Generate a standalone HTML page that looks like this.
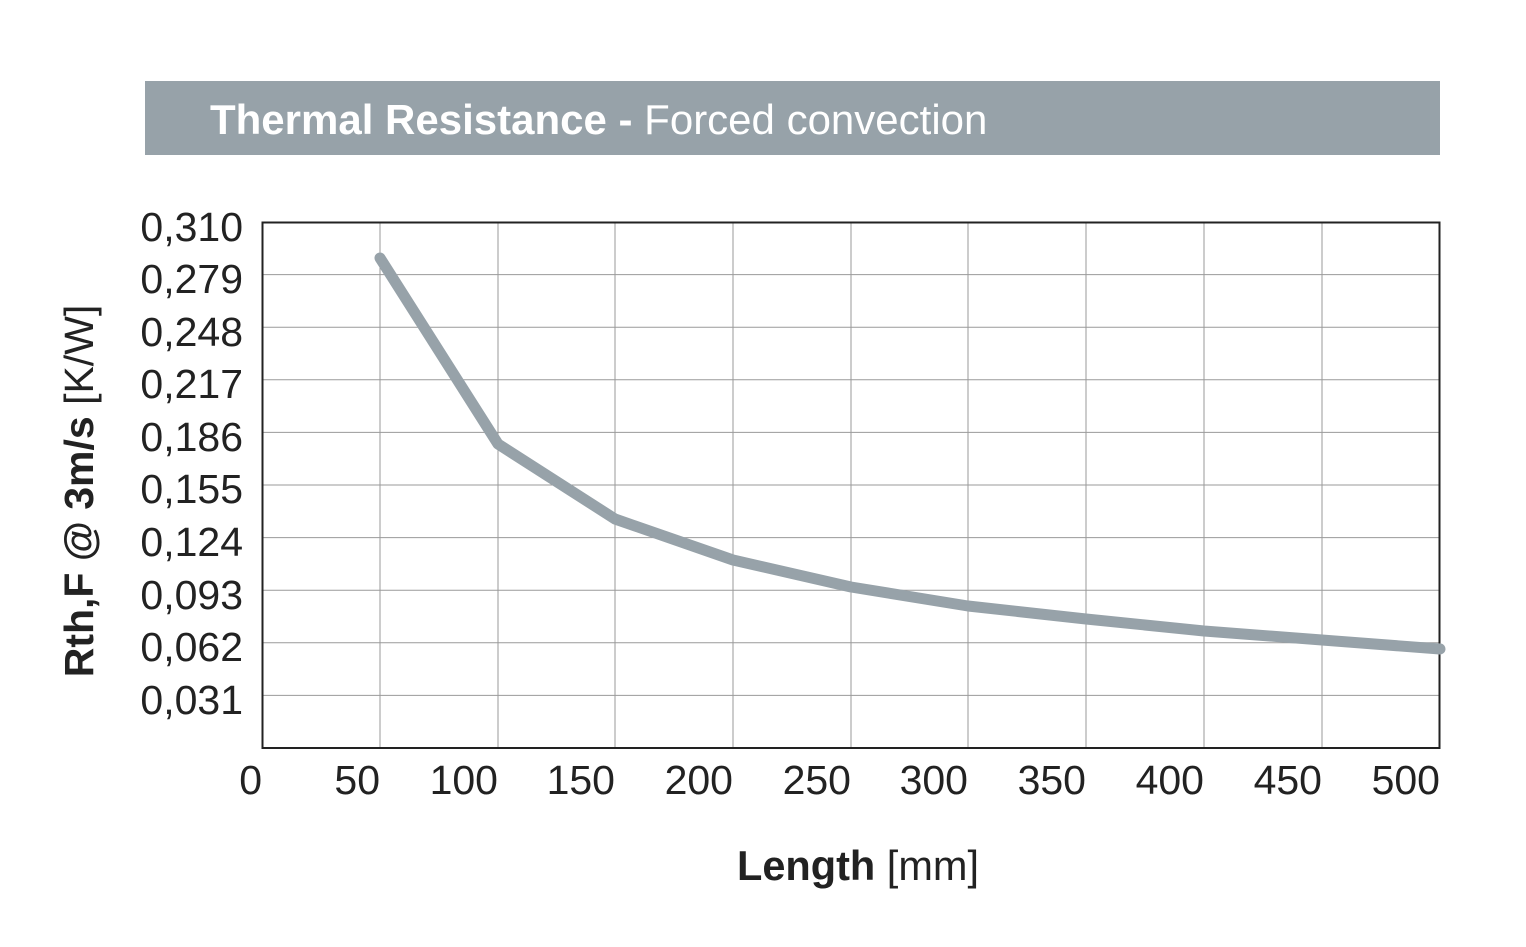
<!DOCTYPE html>
<html><head><meta charset="utf-8"><style>
body{margin:0;background:#fff;}
svg{display:block;font-family:"Liberation Sans",Arial,sans-serif;}
</style></head><body>
<svg width="1526" height="947" viewBox="0 0 1526 947" xmlns="http://www.w3.org/2000/svg">
<rect x="145" y="81" width="1295" height="74" fill="#97a2a9"/>
<text x="210" y="134" font-size="42" fill="#fff"><tspan font-weight="bold">Thermal Resistance -</tspan> Forced convection</text>
<g stroke="#9a9a9a" stroke-width="1">
<line x1="380" y1="222" x2="380" y2="748"/><line x1="498" y1="222" x2="498" y2="748"/>
<line x1="615" y1="222" x2="615" y2="748"/><line x1="733" y1="222" x2="733" y2="748"/>
<line x1="851" y1="222" x2="851" y2="748"/><line x1="968" y1="222" x2="968" y2="748"/>
<line x1="1086" y1="222" x2="1086" y2="748"/><line x1="1204" y1="222" x2="1204" y2="748"/>
<line x1="1322" y1="222" x2="1322" y2="748"/>
<line x1="262" y1="274.6" x2="1440" y2="274.6"/><line x1="262" y1="327.2" x2="1440" y2="327.2"/>
<line x1="262" y1="379.8" x2="1440" y2="379.8"/><line x1="262" y1="432.4" x2="1440" y2="432.4"/>
<line x1="262" y1="485" x2="1440" y2="485"/><line x1="262" y1="537.6" x2="1440" y2="537.6"/>
<line x1="262" y1="590.2" x2="1440" y2="590.2"/><line x1="262" y1="642.8" x2="1440" y2="642.8"/>
<line x1="262" y1="695.4" x2="1440" y2="695.4"/>
</g>
<rect x="262.5" y="222.5" width="1177" height="525.5" fill="none" stroke="#222" stroke-width="2"/>
<polyline points="380,258 498,444 615,519 733,560 851,587 968,606 1086,619 1204,631 1322,640 1440,649" fill="none" stroke="#97a2a9" stroke-width="11" stroke-linecap="round" stroke-linejoin="round"/>
<g font-size="41" fill="#222" text-anchor="end">
<text x="243" y="241">0,310</text><text x="243" y="293">0,279</text><text x="243" y="346">0,248</text>
<text x="243" y="398">0,217</text><text x="243" y="451">0,186</text><text x="243" y="503">0,155</text>
<text x="243" y="556">0,124</text><text x="243" y="609">0,093</text><text x="243" y="661">0,062</text>
<text x="243" y="714">0,031</text>
<text x="262" y="794">0</text><text x="380" y="794">50</text><text x="498" y="794">100</text>
<text x="615" y="794">150</text><text x="733" y="794">200</text><text x="851" y="794">250</text>
<text x="968" y="794">300</text><text x="1086" y="794">350</text><text x="1204" y="794">400</text>
<text x="1322" y="794">450</text><text x="1440" y="794">500</text>
</g>
<text x="858" y="880" font-size="41.5" fill="#222" text-anchor="middle"><tspan font-weight="bold">Length</tspan> [mm]</text>
<text transform="translate(93,491) rotate(-90)" font-size="41" fill="#222" text-anchor="middle"><tspan font-weight="bold">Rth,F @ 3m/s</tspan> [K/W]</text>
</svg>
</body></html>
